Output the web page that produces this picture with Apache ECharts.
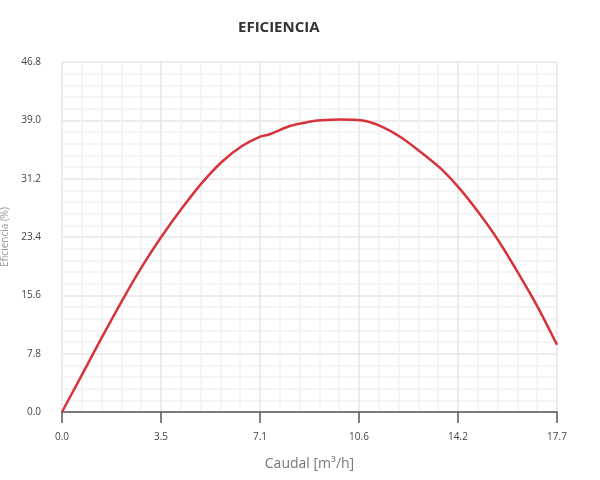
<!DOCTYPE html>
<html lang="es">
<head>
    <meta charset="UTF-8">
    <title>Eficiencia</title>
    <script src="https://cdn.jsdelivr.net/npm/echarts@6/dist/echarts.min.js"></script>
</head>
<body style="margin:0;">
<div id="chart" style="width:600px;height:480px;"></div>
<script type="text/javascript">
    // caudal (m3/h) y eficiencia (%)
    var caudal = [0, 0.66, 1.43, 2.15, 2.87, 3.53, 4.30, 5.02, 5.73, 6.45, 7.07, 7.40, 8.12, 8.84,
        9.26, 9.97, 10.69, 11.41, 12.13, 13.08, 13.56, 14.19, 14.87, 15.59, 16.31, 17.03, 17.7];
    var eficiencia = [0, 4.6, 10.0, 14.9, 19.5, 23.3, 27.3, 30.7, 33.5, 35.6, 36.8, 37.1, 38.2, 38.8,
        39.0, 39.1, 39.0, 38.2, 36.7, 34.0, 32.5, 30.0, 26.8, 23.0, 18.6, 13.9, 9.0];
    var xMax = 17.7;
    var yMax = 46.8;

    var puntos = [];
    for (var i = 0; i < caudal.length; i++) {
        puntos.push([caudal[i], eficiencia[i]]);
    }

    var chart = echarts.init(document.getElementById('chart'));
    var option = {
        backgroundColor: '#fff',
        animation: false,
        title: {
            text: 'EFICIENCIA',
            left: 233,
            top: 15,
            textStyle: {fontSize: 15, fontWeight: 'bold', color: '#333', fontFamily: 'Open Sans'}
        },
        grid: {left: 62, right: 43, top: 62, bottom: 68, outerBoundsMode: 'none'},
        xAxis: {
            type: 'value',
            min: 0,
            max: xMax,
            interval: xMax / 5,
            name: 'Caudal [m\u00b3/h]',
            nameLocation: 'middle',
            nameGap: 45,
            nameTextStyle: {fontSize: 14, color: '#777', fontFamily: 'Open Sans'},
            axisLine: {show: true, lineStyle: {color: '#555', width: 1.5}},
            axisTick: {show: true, length: 11, lineStyle: {color: '#555', width: 1.5}},
            axisLabel: {
                margin: 20, fontSize: 10, color: '#444', fontFamily: 'Open Sans',
                formatter: function (v) { return v.toFixed(1); }
            },
            splitLine: {show: true, lineStyle: {color: '#e6e6e6', width: 1.5}},
            minorTick: {show: false, splitNumber: 5},
            minorSplitLine: {show: true, lineStyle: {color: '#f2f2f2', width: 1.5}}
        },
        yAxis: {
            type: 'value',
            min: 0,
            max: yMax,
            interval: 7.8,
            name: 'Eficiencia (%)',
            nameLocation: 'middle',
            nameGap: 52,
            nameTextStyle: {fontSize: 10, color: '#999', fontFamily: 'Open Sans'},
            axisLine: {show: false},
            axisTick: {show: false},
            axisLabel: {
                margin: 21, fontSize: 10, color: '#444', fontFamily: 'Open Sans',
                formatter: function (v) { return v.toFixed(1); }
            },
            splitLine: {show: true, lineStyle: {color: '#e6e6e6', width: 1.5}},
            minorTick: {show: false, splitNumber: 5},
            minorSplitLine: {show: true, lineStyle: {color: '#f2f2f2', width: 1.5}}
        },
        series: [
            {
                name: 'Eficiencia',
                type: 'line',
                data: puntos,
                smooth: 0.3,
                showSymbol: false,
                lineStyle: {color: '#d6333b', width: 2.5},
                itemStyle: {color: '#d6333b'}
            }
        ]
    };
    chart.setOption(option);
</script>
</body>
</html>
